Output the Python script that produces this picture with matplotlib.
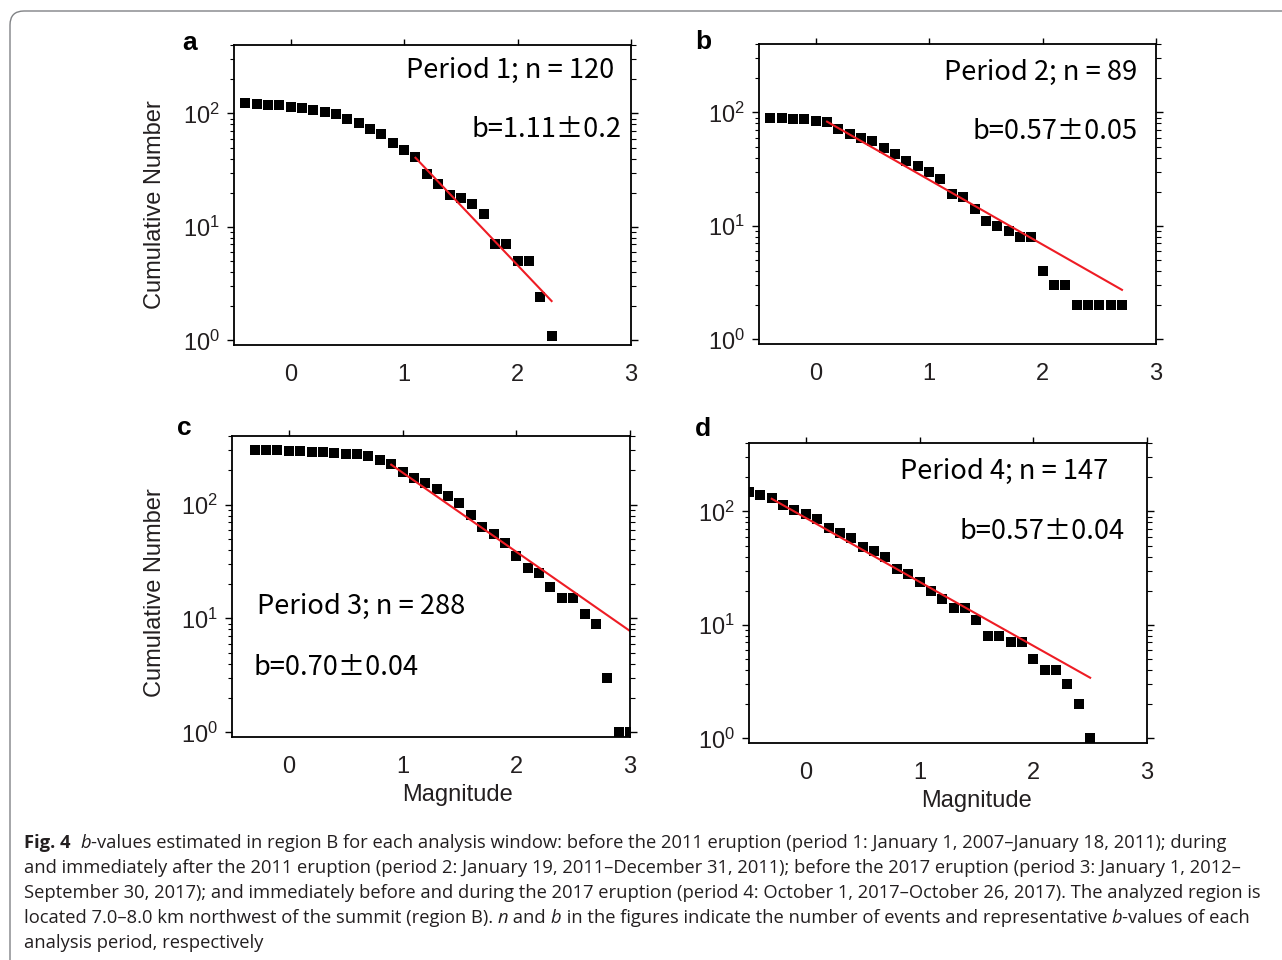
import matplotlib
matplotlib.use("Agg")
import matplotlib.pyplot as plt
from matplotlib.patches import FancyBboxPatch
from matplotlib.ticker import LogLocator, NullFormatter, FixedLocator

# ---------------- data ----------------
mag_a = [-0.4, -0.3, -0.2, -0.1, 0.0, 0.1, 0.2, 0.3, 0.4, 0.5, 0.6, 0.7, 0.8, 0.9,
         1.0, 1.1, 1.2, 1.3, 1.4, 1.5, 1.6, 1.7, 1.8, 1.9, 2.0, 2.1, 2.2, 2.3]
num_a = [124, 122, 119, 118, 114, 111, 106, 102, 99, 90, 83, 73, 66, 55,
         48, 41, 29, 24, 19, 18, 16, 13, 7, 7, 5, 5, 2.4, 1.1]
fit_a_x = [1.1, 2.3]
fit_a_y = [40.6, 2.22]

mag_b = [-0.4, -0.3, -0.2, -0.1, 0.0, 0.1, 0.2, 0.3, 0.4, 0.5, 0.6, 0.7, 0.8, 0.9,
         1.0, 1.1, 1.2, 1.3, 1.4, 1.5, 1.6, 1.7, 1.8, 1.9,
         2.0, 2.1, 2.2, 2.3, 2.4, 2.5, 2.6, 2.7]
num_b = [90, 88.5, 88, 87, 84.5, 83, 71, 64, 60, 56, 49, 43, 37, 34,
         30, 26, 19, 18, 14, 11, 10, 9, 8, 8,
         4, 3, 3, 2, 2, 2, 2, 2]
fit_b_x = [0.1, 2.7]
fit_b_y = [82.8, 2.73]

mag_c = [-0.3, -0.2, -0.1, 0.0, 0.1, 0.2, 0.3, 0.4, 0.5, 0.6, 0.7, 0.8, 0.9,
         1.0, 1.1, 1.2, 1.3, 1.4, 1.5, 1.6, 1.7, 1.8, 1.9,
         2.0, 2.1, 2.2, 2.3, 2.4, 2.5, 2.6, 2.7, 2.8, 2.9, 3.0]
num_c = [303, 303, 299, 297, 293, 291, 291, 285, 279, 277, 267, 247, 225,
         195, 171, 156, 137, 118, 103, 81, 64, 55, 46,
         35, 28, 25, 19, 15, 15, 11, 9, 3, 1, 1]
fit_c_x = [0.9, 3.0]
fit_c_y = [224, 7.76]

mag_d = [-0.5, -0.4, -0.3, -0.2, -0.1, 0.0, 0.1, 0.2, 0.3, 0.4, 0.5, 0.6, 0.7, 0.8, 0.9,
         1.0, 1.1, 1.2, 1.3, 1.4, 1.5, 1.6, 1.7, 1.8, 1.9,
         2.0, 2.1, 2.2, 2.3, 2.4, 2.5]
num_d = [147, 140, 130, 114, 103, 95, 85, 72, 64, 58, 49, 45, 40, 31, 28,
         24, 20, 17, 14, 14, 11, 8, 8, 7, 7,
         5, 4, 4, 3, 2, 1]
fit_d_x = [-0.3, 2.5]
fit_d_y = [129, 3.42]

panel_letters = ["a", "b", "c", "d"]
period_texts = ["Period 1; n = 120", "Period 2; n = 89", "Period 3; n = 288", "Period 4; n = 147"]
bvalue_texts = ["b=1.11\u00b10.2", "b=0.57\u00b10.05", "b=0.70\u00b10.04", "b=0.57\u00b10.04"]
x_ticks = [0, 1, 2, 3]
y_label = "Cumulative Number"
x_label = "Magnitude"

caption_lines = [
    [("Fig. 4", "bold"), ("  ", "normal"), ("b", "italic"),
     ("-values estimated in region B for each analysis window: before the 2011 eruption (period 1: January 1, 2007\u2013January 18, 2011); during", "normal")],
    [("and immediately after the 2011 eruption (period 2: January 19, 2011\u2013December 31, 2011); before the 2017 eruption (period 3: January 1, 2012\u2013", "normal")],
    [("September 30, 2017); and immediately before and during the 2017 eruption (period 4: October 1, 2017\u2013October 26, 2017). The analyzed region is", "normal")],
    [("located 7.0\u20138.0 km northwest of the summit (region B). ", "normal"), ("n", "italic"), (" and ", "normal"),
     ("b", "italic"), (" in the figures indicate the number of events and representative ", "normal"),
     ("b", "italic"), ("-values of each", "normal")],
    [("analysis period, respectively", "normal")],
]

# ---------------- style ----------------
W, H = 1282, 960
plt.rcParams["font.family"] = ["Liberation Sans", "DejaVu Sans"]
plt.rcParams["mathtext.fontset"] = "custom"
plt.rcParams["mathtext.rm"] = "Liberation Sans"
plt.rcParams["mathtext.it"] = "Liberation Sans:italic"
plt.rcParams["mathtext.bf"] = "Liberation Sans:bold"

fig = plt.figure(figsize=(W / 100, H / 100), dpi=100)


def fx(x):
    return x / W


def fy(y):
    return 1 - y / H


# axes boxes in pixels: left, top, right, bottom
boxes = [(234, 45, 631, 345), (759, 44, 1156, 344),
         (232, 436, 630, 737), (749, 443, 1147, 743)]
data = [(mag_a, num_a, fit_a_x, fit_a_y), (mag_b, num_b, fit_b_x, fit_b_y),
        (mag_c, num_c, fit_c_x, fit_c_y), (mag_d, num_d, fit_d_x, fit_d_y)]

TXT = "#231f20"
px2pt = 72 / 100

for (l, t, r, b), (mx, ny, fxv, fyv) in zip(boxes, data):
    ax = fig.add_axes([fx(l), fy(b), (r - l) / W, (b - t) / H])
    ax.plot(mx, ny, linestyle="none", marker="s", markersize=6.6,
            color="black", markeredgewidth=0)
    ax.plot(fxv, fyv, color="#ee1c24", linewidth=1.5)
    ax.set_yscale("log")
    ax.set_xlim(-0.5, 3.0)
    ax.set_ylim(0.91, 400)
    ax.xaxis.set_major_locator(FixedLocator(x_ticks))
    ax.xaxis.set_minor_locator(FixedLocator([]))
    ax.yaxis.set_major_locator(LogLocator(base=10, numticks=10))
    ax.yaxis.set_minor_locator(LogLocator(base=10, subs=[2, 3, 4, 5, 6, 7, 8, 9], numticks=10))
    ax.yaxis.set_minor_formatter(NullFormatter())
    for sp in ax.spines.values():
        sp.set_linewidth(1.3)
        sp.set_color("black")
    ax.tick_params(axis="x", which="major", bottom=False, top=True, labelbottom=True,
                   labeltop=False, direction="out", length=6 * px2pt, width=1.0,
                   pad=9.5, labelsize=17, labelcolor=TXT)
    ax.tick_params(axis="y", which="major", left=True, right=True, direction="out",
                   length=7 * px2pt, width=1.0, pad=5, labelsize=17, labelcolor=TXT)
    ax.tick_params(axis="y", which="minor", left=True, right=True, direction="out",
                   length=4.5 * px2pt, width=0.8)

# panel letters
letter_pos = [(190, 50), (703, 49), (184, 435), (703, 436)]
for s, (x, y) in zip(panel_letters, letter_pos):
    fig.text(fx(x), fy(y), s, ha="center", va="baseline", fontsize=19,
             fontweight="bold", color="black")

# annotation texts (x, baseline y, ha)
ann_font = ["Noto Sans CJK JP", "DejaVu Sans"]
ann_size = 19.6
period_pos = [(406, 78, "left"), (944, 80, "left"), (257, 614, "left"), (900, 479, "left")]
bval_pos = [(622, 137, "right"), (1138, 139, "right"), (253, 675, "left"), (959, 539, "left")]
for s, (x, y, ha) in zip(period_texts, period_pos):
    fig.text(fx(x), fy(y), s, ha=ha, va="baseline", fontsize=ann_size, family=ann_font,
             color="black")
for s, (x, y, ha) in zip(bvalue_texts, bval_pos):
    fig.text(fx(x), fy(y), s, ha=ha, va="baseline", fontsize=ann_size, family=ann_font,
             color="black")

# axis labels
for (x, y) in [(155, 205), (155, 593)]:
    fig.text(fx(x), fy(y), y_label, rotation=90, ha="center", va="center",
             fontsize=17, color=TXT)
for (x, y) in [(458, 795), (977, 801)]:
    fig.text(fx(x), fy(y), x_label, ha="center", va="center", fontsize=17, color=TXT)

# figure frame (rounded corner top-left)
frame = FancyBboxPatch((10, -60), 1400, (H - 11) + 60,
                       boxstyle="round,pad=0,rounding_size=14",
                       transform=None, facecolor="none", edgecolor="#808285",
                       linewidth=1.0)
fig.add_artist(frame)

# caption
cap_family = ["Open Sans", "DejaVu Sans"]
renderer = fig.canvas.get_renderer()


def seg_width(s, style, size):
    weight = "bold" if style == "bold" else "normal"
    fstyle = "italic" if style == "italic" else "normal"
    t = fig.text(0, 0, s, fontsize=size, family=cap_family, fontweight=weight,
                 fontstyle=fstyle)
    w = t.get_window_extent(renderer).width
    t.remove()
    return w


base = 10.0
w3 = sum(seg_width(s, st, base) for s, st in caption_lines[2])
cap_size = base * (1262 - 25) / w3

cap_x0 = 24
cap_baselines = [848, 873, 898, 923, 948]
for segs, yb in zip(caption_lines, cap_baselines):
    x = cap_x0
    for s, st in segs:
        weight = "bold" if st == "bold" else "normal"
        fstyle = "italic" if st == "italic" else "normal"
        t = fig.text(fx(x), fy(yb), s, ha="left", va="baseline", fontsize=cap_size,
                     family=cap_family, fontweight=weight, fontstyle=fstyle,
                     color=TXT)
        x += t.get_window_extent(renderer).width

fig.savefig("out.png", dpi=100)
